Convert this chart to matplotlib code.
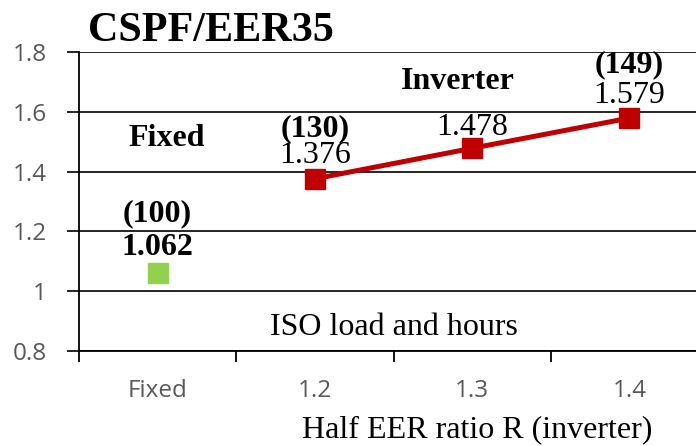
import matplotlib.pyplot as plt

# data
categorias = ['Fixed', '1.2', '1.3', '1.4']
valor_fixo = [1.062]
valores_inverter = [1.376, 1.478, 1.579]
indices_inverter = ['(130)', '(149)']
yticks = [0.8, 1.0, 1.2, 1.4, 1.6, 1.8]
ytick_labels = ['0.8', '1', '1.2', '1.4', '1.6', '1.8']

serif = 'Liberation Serif'
sans = 'Open Sans'
fs = 23

fig = plt.figure(figsize=(6.96, 4.46), dpi=100)
ax = fig.add_axes([79 / 696, 1 - 351 / 446, 629 / 696, 299 / 446])

x = list(range(len(categorias)))

# linhas de grade
ax.set_ylim(0.8, 1.8)
ax.set_xlim(-0.5, 3.5)
ax.set_yticks(yticks)
ax.set_yticklabels(ytick_labels)
ax.yaxis.grid(True, color='black', linewidth=1.2)
ax.set_axisbelow(True)

# pontos
ax.plot(x[0], valor_fixo[0], marker='s', markersize=14.5, color='#92D050',
        linestyle='none', zorder=3)
ax.plot(x[1:], valores_inverter, marker='s', markersize=14.5, color='#C00000',
        linewidth=3.6, zorder=3)

# x ticks between categories
ax.set_xticks(x)
ax.set_xticklabels(categorias)
ax.set_xticks([-0.5, 0.5, 1.5, 2.5, 3.5], minor=True)
ax.tick_params(axis='x', which='major', length=0, pad=20)
ax.tick_params(axis='x', which='minor', length=8, width=1.3, color='black')
ax.tick_params(axis='y', length=9, width=1.2, color='black', pad=14)
for lbl in ax.get_xticklabels() + ax.get_yticklabels():
    lbl.set_fontfamily(sans)
    lbl.set_fontsize(17.5)
    lbl.set_color('#595959')

for s in ['top', 'right']:
    ax.spines[s].set_visible(False)
ax.spines['left'].set_linewidth(1.3)
ax.spines['bottom'].set_linewidth(1.3)

# textos
ax.text(0, 1.26, '(100)', fontfamily=serif, fontsize=fs, fontweight='bold',
        ha='center', va='center')
ax.text(0, 1.147, f'{valor_fixo[0]:.3f}', fontfamily=serif, fontsize=fs,
        fontweight='bold', ha='center', va='center')

ax.text(1, 1.543, indices_inverter[0], fontfamily=serif, fontsize=fs,
        fontweight='bold', ha='center', va='center')
ax.text(1, 1.453, f'{valores_inverter[0]:.3f}', fontfamily=serif, fontsize=fs,
        ha='center', va='center')
ax.text(2, 1.547, f'{valores_inverter[1]:.3f}', fontfamily=serif, fontsize=fs,
        ha='center', va='center')
ax.text(3, 1.757, indices_inverter[1], fontfamily=serif, fontsize=fs,
        fontweight='bold', ha='center', va='center')
ax.text(3, 1.653, f'{valores_inverter[2]:.3f}', fontfamily=serif, fontsize=fs,
        ha='center', va='center')

ax.text(0.057, 1.51, 'Fixed', fontfamily=serif, fontsize=fs, fontweight='bold',
        ha='center', va='center')
ax.text(1.91, 1.703, 'Inverter', fontfamily=serif, fontsize=fs,
        fontweight='bold', ha='center', va='center')
ax.text(1.5, 0.88, 'ISO load and hours', fontfamily=serif, fontsize=fs,
        ha='center', va='center')

fig.text(88 / 696, 1 - 41 / 446, 'CSPF/EER35', fontfamily=serif, fontsize=30.3,
         fontweight='bold', ha='left', va='baseline')
fig.text(652 / 696, 1 - 437 / 446, 'Half EER ratio R (inverter)',
         fontfamily=serif, fontsize=23, ha='right', va='baseline')

fig.savefig('out.png', dpi=100)
